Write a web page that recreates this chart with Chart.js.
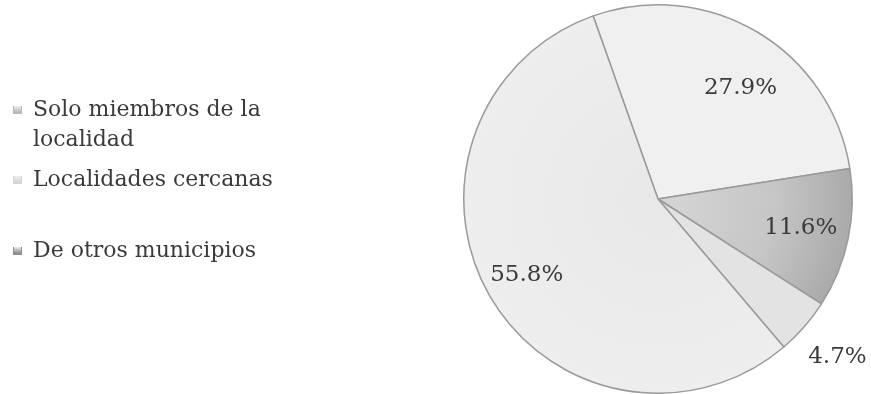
<!DOCTYPE html>
<html>
<head>
<meta charset="utf-8">
<script src="https://cdn.jsdelivr.net/npm/chart.js@4.4.0/dist/chart.umd.min.js"></script>
<style>
  html, body { margin: 0; padding: 0; background: #ffffff; }
  #wrap { position: relative; width: 871px; height: 394px; }
  #c { position: absolute; left: 0; top: 0; }
  .lg { position: absolute; left: 33px; font-family: "DejaVu Serif", serif; font-size: 22px; color: #3a3a3a; line-height: 30px; white-space: nowrap; }
  .ic { position: absolute; left: -20px; width: 9px; height: 8px; }
</style>
</head>
<body>
<div id="wrap">
  <canvas id="c" width="871" height="394"></canvas>
  <div id="legend"></div>
</div>
<script>
// ---- data ----
const categories = ['Solo miembros de la localidad', 'Localidades cercanas', 'De otros municipios'];
const values = [27.9, 11.6, 4.7, 55.8];
const valueLabels = ['27.9%', '11.6%', '4.7%', '55.8%'];

// ---- styles ----
const sliceColors = ['#f0f0f0', '#c4c4c4', '#e3e3e3', '#e8e8e8'];
const legendIconColors = ['#b8b8b8', '#d6d6d6', '#8e8e8e'];
const legendTops = [94, 164, 235];       // top of each legend item (px)

// label placement: [fraction along slice angle, fraction of radius]
const labelPlace = [[0.56, 0.71], [0.49, 0.75], [0.51, 1.23], [0.50, 0.78]];

// HTML legend
const lg = document.getElementById('legend');
categories.forEach((name, i) => {
  const d = document.createElement('div');
  d.className = 'lg';
  d.style.top = legendTops[i] + 'px';
  if (i === 0) {
    const w = name.split(' ');
    d.innerHTML = w.slice(0, 4).join(' ') + '<br>' + w.slice(4).join(' ');
  } else {
    d.textContent = name;
  }
  const ic = document.createElement('span');
  ic.className = 'ic';
  ic.style.top = '12px';
  ic.style.background = 'linear-gradient(#eeeeee, ' + legendIconColors[i] + ')';
  ic.style.borderLeft = '1px solid ' + legendIconColors[i];
  ic.style.borderRight = '1px solid ' + legendIconColors[i];
  ic.style.borderBottom = '2px solid ' + legendIconColors[i];
  ic.style.boxSizing = 'border-box';
  d.appendChild(ic);
  lg.appendChild(d);
});

const labelPlugin = {
  id: 'sliceLabels',
  afterDatasetsDraw(chart) {
    const ctx = chart.ctx;
    const meta = chart.getDatasetMeta(0);
    ctx.save();
    ctx.font = '23px "DejaVu Serif", serif';
    ctx.fillStyle = '#3a3a3a';
    ctx.textAlign = 'center';
    ctx.textBaseline = 'middle';
    meta.data.forEach((arc, i) => {
      const p = arc.getProps(['x', 'y', 'startAngle', 'endAngle', 'outerRadius'], true);
      const a = p.startAngle + (p.endAngle - p.startAngle) * labelPlace[i][0];
      const r = p.outerRadius * labelPlace[i][1];
      ctx.fillText(valueLabels[i], p.x + Math.cos(a) * r, p.y + Math.sin(a) * r);
    });
    ctx.restore();
  }
};

function sliceBg(context) {
  const i = context.dataIndex;
  const chart = context.chart;
  const area = chart.chartArea;
  if (!area) return sliceColors[i];
  const ctx = chart.ctx;
  const cx = (area.left + area.right) / 2, cy = (area.top + area.bottom) / 2;
  const r = Math.min(area.right - area.left, area.bottom - area.top) / 2;
  const g = ctx.createRadialGradient(cx, cy, 0, cx, cy, r);
  if (i === 1) {
    g.addColorStop(0, '#d6d6d6');
    g.addColorStop(0.6, '#c6c6c6');
    g.addColorStop(1, '#aaaaaa');
    return g;
  }
  g.addColorStop(0, sliceColors[i]);
  g.addColorStop(1, i === 3 ? '#eeeeee' : sliceColors[i]);
  return g;
}

new Chart(document.getElementById('c'), {
  type: 'pie',
  data: {
    labels: categories,
    datasets: [{
      data: values,
      backgroundColor: sliceBg,
      borderColor: '#9a9a9a',
      borderWidth: 1.5
    }]
  },
  options: {
    responsive: false,
    animation: false,
    rotation: -19.5,
    layout: { padding: { left: 463, right: 18, top: 4, bottom: 0 } },
    plugins: {
      legend: { display: false },
      tooltip: { enabled: false }
    }
  },
  plugins: [labelPlugin]
});
</script>
</body>
</html>
